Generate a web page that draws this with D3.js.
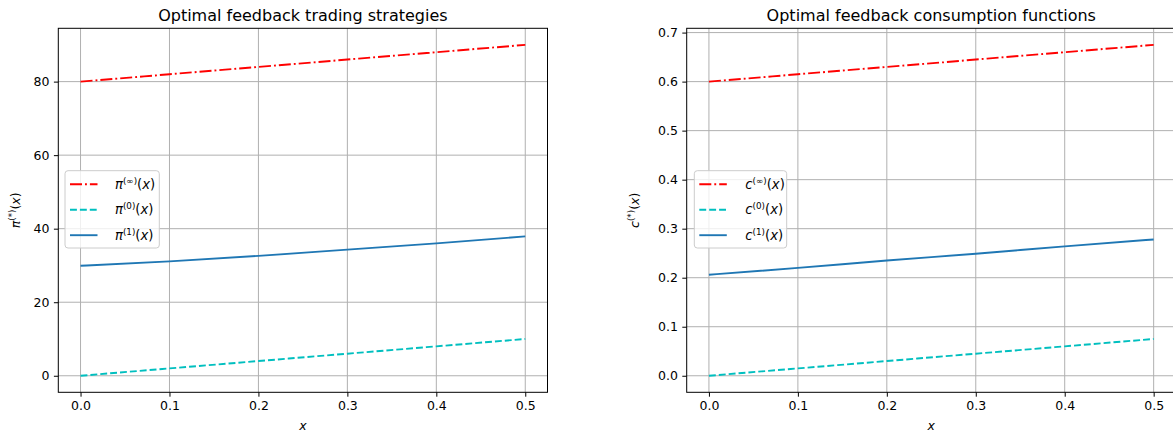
<!DOCTYPE html>
<html>
<head>
<meta charset="utf-8">
<script src="https://cdn.jsdelivr.net/npm/d3@7"></script>
<style>
  body { margin: 0; background: #fff; }
  text { font-family: "DejaVu Sans", sans-serif; fill: #000; }
</style>
</head>
<body>
<script>
var W = 1173, H = 432;

// values
var xs = [0, 0.1, 0.2, 0.3, 0.4, 0.5];
var piInf = [80, 82, 84, 86, 88, 90];
var pi0 = [0, 2, 4, 6, 8, 10];
var pi1 = [29.9, 31.1, 32.6, 34.3, 36.0, 37.9];
var cInf = [0.6, 0.615, 0.63, 0.645, 0.66, 0.675];
var c0 = [0, 0.015, 0.03, 0.045, 0.06, 0.075];
var c1 = [0.206, 0.220, 0.235, 0.249, 0.264, 0.278];

var xTicks = [0, 0.1, 0.2, 0.3, 0.4, 0.5];
var piTicks = [0, 20, 40, 60, 80];
var cTicks = [0, 0.1, 0.2, 0.3, 0.4, 0.5, 0.6, 0.7];

var svg = d3.select("body").append("svg")
  .attr("width", W)
  .attr("height", H);

var fs = 12.5;
var tickLen = 4.4, tickPad = 4.4;

// writes sym^(sup)(x) with tspans
var mathLabel = function(t, sym, sup) {
  t.append("tspan").attr("font-style", "italic").text(sym);
  t.append("tspan").attr("font-size", fs * 0.7).attr("dy", -5).text("(" + sup + ")");
  t.append("tspan").attr("dy", 5).text("(");
  t.append("tspan").attr("font-style", "italic").text("x");
  t.append("tspan").text(")");
};

var drawPanel = function(opt) {
  var left = opt.left, top = 28.3, width = 489.2, height = 364;
  var x = d3.scaleLinear().domain([-0.025, 0.525]).range([0, width]);
  var y = d3.scaleLinear().domain(opt.yDomain).range([height, 0]);

  var g = svg.append("g")
    .attr("transform", "translate(" + left + "," + top + ")");

  // grid
  g.append("g").selectAll("line").data(xTicks).enter().append("line")
    .attr("x1", function(d) { return x(d); })
    .attr("x2", function(d) { return x(d); })
    .attr("y1", 0).attr("y2", height)
    .attr("stroke", "#b0b0b0").attr("stroke-width", 1);
  g.append("g").selectAll("line").data(opt.yTicks).enter().append("line")
    .attr("y1", function(d) { return y(d); })
    .attr("y2", function(d) { return y(d); })
    .attr("x1", 0).attr("x2", width)
    .attr("stroke", "#b0b0b0").attr("stroke-width", 1);

  var line = d3.line()
    .x(function(d, i) { return x(xs[i]); })
    .y(function(d) { return y(d); })
    .curve(d3.curveMonotoneX);

  opt.series.forEach(function(s) {
    g.append("path")
      .datum(s.values)
      .attr("d", line)
      .attr("fill", "none")
      .attr("stroke", s.color)
      .attr("stroke-width", 1.9)
      .attr("stroke-dasharray", s.dash);
  });

  // axes
  var xAxis = g.append("g")
    .attr("transform", "translate(0," + height + ")")
    .call(d3.axisBottom(x).tickValues(xTicks).tickSize(tickLen).tickPadding(tickPad)
      .tickFormat(d3.format(".1f")));
  var yAxis = g.append("g")
    .call(d3.axisLeft(y).tickValues(opt.yTicks).tickSize(tickLen).tickPadding(tickPad)
      .tickFormat(opt.yFormat));
  [xAxis, yAxis].forEach(function(a) {
    a.select(".domain").remove();
    a.selectAll("line").attr("stroke", "#000").attr("stroke-width", 1);
    a.selectAll("text").attr("font-size", fs).attr("font-family", "DejaVu Sans").attr("fill", "#000");
  });

  // spines
  g.append("rect")
    .attr("x", 0).attr("y", 0).attr("width", width).attr("height", height)
    .attr("fill", "none").attr("stroke", "#000").attr("stroke-width", 1);

  // title
  g.append("text")
    .attr("x", width / 2).attr("y", -7.5)
    .attr("text-anchor", "middle")
    .attr("font-size", 16)
    .text(opt.title);

  // x label
  g.append("text")
    .attr("x", width / 2).attr("y", 430 - top)
    .attr("text-anchor", "middle")
    .attr("font-size", fs)
    .attr("font-style", "italic")
    .text("x");

  // y label
  var yl = svg.append("text")
    .attr("transform", "translate(" + opt.yLabelX + "," + (top + height / 2) + ") rotate(-90)")
    .attr("text-anchor", "middle")
    .attr("font-size", fs);
  mathLabel(yl, opt.sym, "*");

  // legend
  var lg = g.append("g")
    .attr("transform", "translate(" + opt.legX + "," + 142.4 + ")");
  lg.append("rect")
    .attr("width", opt.legW).attr("height", 77.3)
    .attr("rx", 3).attr("ry", 3)
    .attr("fill", "#fff").attr("fill-opacity", 0.8)
    .attr("stroke", "#cccccc").attr("stroke-width", 1);
  opt.series.forEach(function(s, i) {
    var yy = 13.5 + i * 25.5;
    lg.append("line")
      .attr("x1", 5).attr("x2", 32.5)
      .attr("y1", yy).attr("y2", yy)
      .attr("stroke", s.color).attr("stroke-width", 1.9)
      .attr("stroke-dasharray", s.dash);
    var t = lg.append("text")
      .attr("x", opt.legTextX).attr("y", yy + 4.5)
      .attr("font-size", 13.2);
    mathLabel(t, opt.sym, s.sup);
  });
};

drawPanel({
  left: 58.3,
  title: "Optimal feedback trading strategies",
  yDomain: [-4.5, 94.5],
  yTicks: piTicks,
  yFormat: d3.format("d"),
  sym: "\u03c0",
  yLabelX: 20,
  legX: 6.7, legW: 94.3, legTextX: 50,
  series: [
    { values: piInf, color: "#ff0000", dash: "12,3,1.9,3", sup: "\u221e" },
    { values: pi0, color: "#00bfbf", dash: "6.9,3", sup: "0" },
    { values: pi1, color: "#1f77b4", dash: null, sup: "1" }
  ]
});

drawPanel({
  left: 686.7,
  title: "Optimal feedback consumption functions",
  yDomain: [-0.03375, 0.70875],
  yTicks: cTicks,
  yFormat: d3.format(".1f"),
  sym: "c",
  yLabelX: 639,
  legX: 7.6, legW: 92.4, legTextX: 51,
  series: [
    { values: cInf, color: "#ff0000", dash: "12,3,1.9,3", sup: "\u221e" },
    { values: c0, color: "#00bfbf", dash: "6.9,3", sup: "0" },
    { values: c1, color: "#1f77b4", dash: null, sup: "1" }
  ]
});
</script>
</body>
</html>
